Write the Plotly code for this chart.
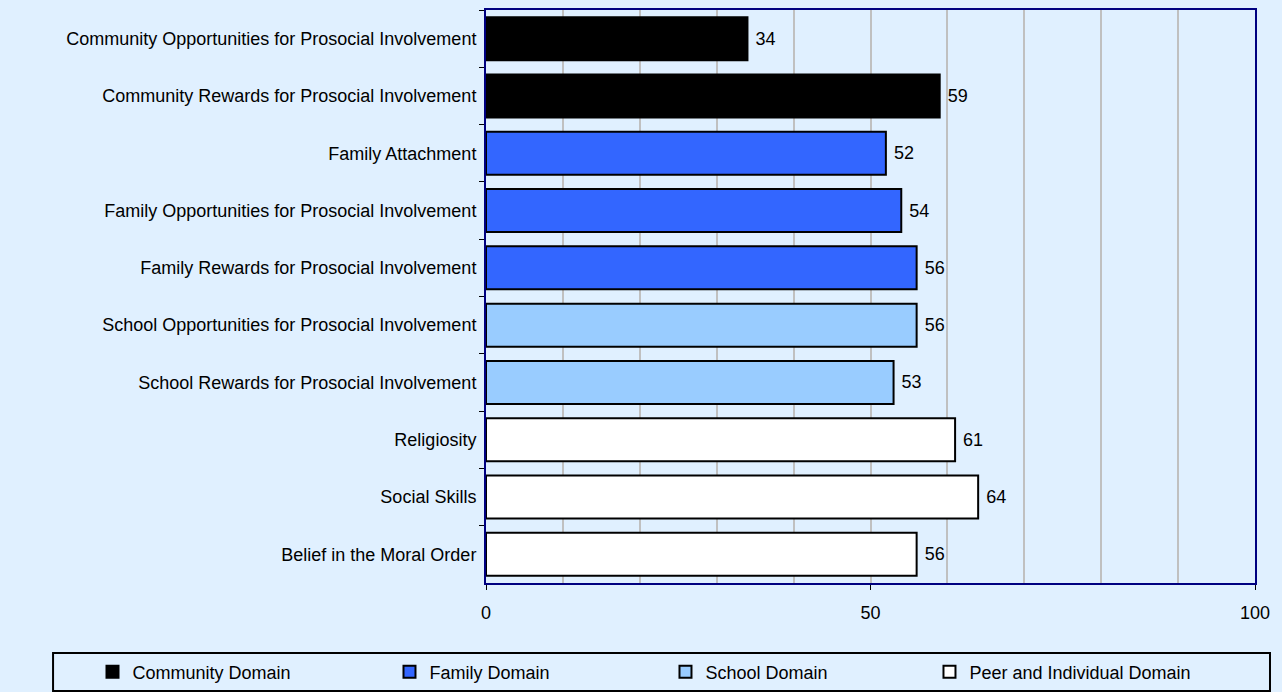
import plotly.graph_objects as go

# data
categories = [
    "Community Opportunities for Prosocial Involvement",
    "Community Rewards for Prosocial Involvement",
    "Family Attachment",
    "Family Opportunities for Prosocial Involvement",
    "Family Rewards for Prosocial Involvement",
    "School Opportunities for Prosocial Involvement",
    "School Rewards for Prosocial Involvement",
    "Religiosity",
    "Social Skills",
    "Belief in the Moral Order",
]
values = [34, 59, 52, 54, 56, 56, 53, 61, 64, 56]
domains = ["Community Domain"] * 2 + ["Family Domain"] * 3 + ["School Domain"] * 2 + \
          ["Peer and Individual Domain"] * 3
domain_names = ["Community Domain", "Family Domain", "School Domain", "Peer and Individual Domain"]
domain_colors = ["#000000", "#3366FF", "#99CCFF", "#FFFFFF"]
x_ticks = [0, 50, 100]

_BG = "#E0F0FF"
_FONT = "Liberation Sans, Arial, sans-serif"

# one small legend per domain so each entry sits where it does in the original
legend_ids = ["legend", "legend2", "legend3", "legend4"]
legend_x = [-0.5117, -0.1255, 0.2334, 0.5767]

fig = go.Figure()
for name, color, lid in zip(domain_names, domain_colors, legend_ids):
    ys = [c for c, d in zip(categories, domains) if d == name]
    xs = [v for v, d in zip(values, domains) if d == name]
    fig.add_trace(go.Bar(
        y=ys, x=xs, orientation="h", name=name, legend=lid,
        marker=dict(color=color, line=dict(color="#000000", width=2)),
        text=xs, texttemplate="\u00a0%{text}", textposition="outside", cliponaxis=False,
        textfont=dict(color="#000000", size=18, family=_FONT),
    ))

# legend frame
fig.add_shape(type="rect", xref="paper", yref="paper",
              x0=-0.563, x1=1.0195, y0=-0.1222, y1=-0.1885,
              line=dict(color="#000000", width=2), fillcolor="rgba(0,0,0,0)")

legends = {}
for lid, lx in zip(legend_ids, legend_x):
    legends[lid] = dict(orientation="h", x=lx, xanchor="left",
                        y=0.029, yref="container", yanchor="middle",
                        bgcolor="rgba(0,0,0,0)", borderwidth=0,
                        font=dict(size=18, family=_FONT, color="#000000"))

fig.update_layout(
    width=1282, height=692,
    paper_bgcolor=_BG, plot_bgcolor=_BG,
    font=dict(family=_FONT, size=18, color="#000000"),
    barmode="overlay", bargap=0.25,
    margin=dict(l=486, r=27, t=10, b=109, autoexpand=False),
    showlegend=True,
    xaxis=dict(range=[0, 100], tickvals=x_ticks, ticks="outside", ticklen=5,
               tickcolor="#000000", showgrid=True, gridcolor="#C0C0C0", gridwidth=2,
               minor=dict(dtick=10, showgrid=True, gridcolor="#C0C0C0", gridwidth=2),
               showline=True, linecolor="#000080", linewidth=2, mirror=True,
               zeroline=False, tickfont=dict(size=18), ticklabelstandoff=7),
    yaxis=dict(categoryorder="array", categoryarray=categories, autorange="reversed",
               tickson="boundaries", ticks="outside", ticklen=5, tickcolor="#000000",
               showgrid=False, showline=True, linecolor="#000080", linewidth=2,
               mirror=True, tickfont=dict(size=18), ticklabelstandoff=4),
    **legends,
)

fig.write_html("out.html", config={"displayModeBar": False},
               post_script="document.body.style.margin='0';document.body.style.overflow='hidden';")
